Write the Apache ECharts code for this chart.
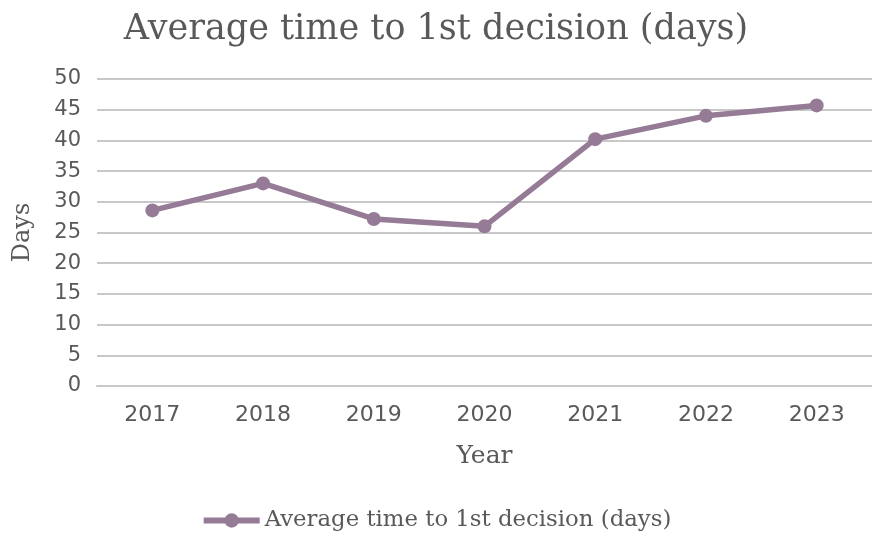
<!DOCTYPE html>
<html><head><meta charset="utf-8">
<script src="https://cdn.jsdelivr.net/npm/echarts@6/dist/echarts.min.js"></script>
<style>html,body{margin:0;padding:0;background:#fff}#c{width:872px;height:535px}</style>
</head><body><div id="c"></div>
<script>
var titleText = 'Average time to 1st decision (days)';
var seriesName = 'Average time to 1st decision (days)';
var years = ['2017','2018','2019','2020','2021','2022','2023'];
var values = [28.6, 33.0, 27.2, 26.0, 40.2, 44.0, 45.7];
var yTicks = {min: 0, max: 50, interval: 5};

var serif = '"DejaVu Serif", "Liberation Serif", serif';
var sans = '"DejaVu Sans", "Liberation Sans", sans-serif';
var textColor = '#595959';
var lineColor = '#957b95';

var chart = echarts.init(document.getElementById('c'), null, {renderer: 'canvas'});
chart.setOption({
  animation: false,
  backgroundColor: '#ffffff',
  title: {
    text: titleText, left: 'center', top: 7,
    textStyle: {fontFamily: serif, fontSize: 35, fontWeight: 'normal', color: textColor}
  },
  legend: {
    data: [seriesName], bottom: -2, left: 'center',
    itemWidth: 56, itemHeight: 18, itemGap: 2,
    lineStyle: {width: 6},
    textStyle: {fontFamily: serif, fontSize: 22.8, color: textColor}
  },
  grid: {left: 97, top: 79, width: 781, height: 307},
  xAxis: {
    type: 'category', data: years, boundaryGap: true,
    name: 'Year', nameLocation: 'middle', nameGap: 58,
    nameTextStyle: {fontFamily: serif, fontSize: 25, color: textColor},
    axisLine: {show: true, lineStyle: {color: '#c8c8c8', width: 2}},
    axisTick: {show: false},
    axisLabel: {fontFamily: sans, fontSize: 22, color: textColor, margin: 18}
  },
  yAxis: {
    type: 'value', min: yTicks.min, max: yTicks.max, interval: yTicks.interval,
    name: 'Days', nameLocation: 'middle', nameGap: 62, nameRotate: 90,
    nameTextStyle: {fontFamily: serif, fontSize: 24, color: textColor},
    axisLine: {show: false}, axisTick: {show: false},
    axisLabel: {fontFamily: sans, fontSize: 21, color: textColor, margin: 16},
    splitLine: {lineStyle: {color: '#c8c8c8', width: 2}}
  },
  series: [{
    name: seriesName, type: 'line', data: values,
    symbol: 'circle', symbolSize: 14,
    lineStyle: {color: lineColor, width: 5.5},
    itemStyle: {color: lineColor}
  }]
});
</script></body></html>
